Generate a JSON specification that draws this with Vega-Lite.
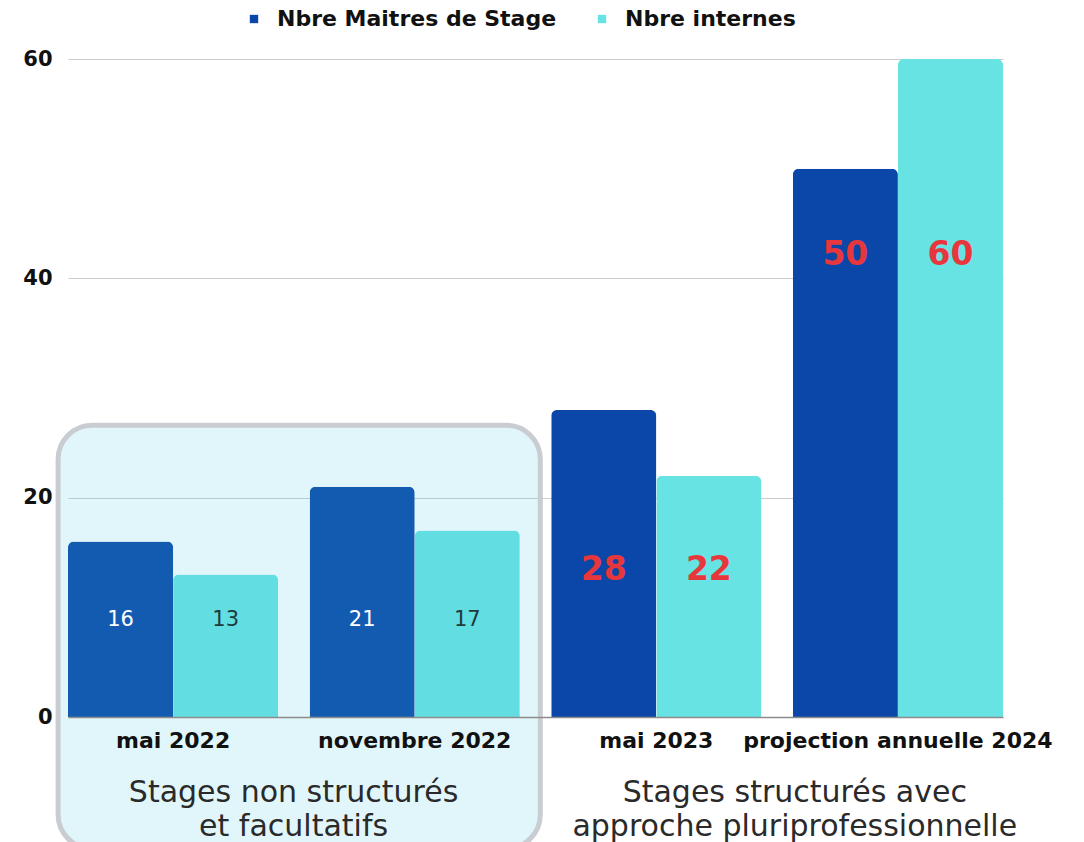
{
  "$schema": "https://vega.github.io/schema/vega-lite/v6.json",
  "width": 935,
  "height": 658,
  "autosize": {"type": "none"},
  "padding": {"left": 68, "top": 59, "right": 81, "bottom": 125},
  "background": "white",
  "config": {"view": {"stroke": null}, "text": {"lineBreak": "\n"}},
  "datasets": {
    "bars": [
      {"period": "mai 2022", "series": "Nbre Maitres de Stage", "value": 16},
      {"period": "mai 2022", "series": "Nbre internes", "value": 13},
      {"period": "novembre 2022", "series": "Nbre Maitres de Stage", "value": 21},
      {"period": "novembre 2022", "series": "Nbre internes", "value": 17},
      {"period": "mai 2023", "series": "Nbre Maitres de Stage", "value": 28},
      {"period": "mai 2023", "series": "Nbre internes", "value": 22},
      {"period": "projection annuelle 2024", "series": "Nbre Maitres de Stage", "value": 50},
      {"period": "projection annuelle 2024", "series": "Nbre internes", "value": 60}
    ],
    "groups": [
      {"group": "Stages non structurés\net facultatifs", "to": "novembre 2022"},
      {"group": "Stages structurés avec\napproche pluriprofessionnelle", "to": "projection annuelle 2024"}
    ]
  },
  "layer": [
    {
      "data": {"name": "bars"},
      "mark": {"type": "bar", "cornerRadiusEnd": 6},
      "encoding": {
        "x": {
          "field": "period", "type": "nominal",
          "scale": {"domain": ["mai 2022", "novembre 2022", "mai 2023", "projection annuelle 2024"], "paddingInner": 0.13, "paddingOuter": 0},
          "axis": {"title": null, "labelAngle": 0, "ticks": false, "labelPadding": 13, "labelLimit": 0, "labelFont": "DejaVu Sans", "labelFontWeight": "bold", "labelFontSize": 22, "labelColor": "#111111", "domainColor": "#8c8c8c", "domainWidth": 1.5, "zindex": 1}
        },
        "xOffset": {"field": "series", "type": "nominal", "scale": {"domain": ["Nbre Maitres de Stage", "Nbre internes"], "paddingInner": 0, "paddingOuter": 0}},
        "y": {
          "field": "value", "type": "quantitative",
          "scale": {"domain": [0, 60], "nice": false},
          "axis": {"title": null, "values": [0, 20, 40, 60], "domain": false, "ticks": false, "labelPadding": 16, "labelFont": "DejaVu Sans", "labelFontWeight": "bold", "labelFontSize": 21, "labelColor": "#111111", "gridColor": "#cccccc", "gridWidth": 1}
        },
        "color": {
          "field": "series", "type": "nominal",
          "scale": {"domain": ["Nbre Maitres de Stage", "Nbre internes"], "range": ["#0A47A8", "#68E3E3"]},
          "legend": {"orient": "none", "legendX": 175, "legendY": -51, "direction": "horizontal", "title": null, "symbolType": "square", "symbolSize": 70, "symbolStrokeWidth": 0, "labelLimit": 0, "labelFont": "DejaVu Sans", "labelFontWeight": "bold", "labelFontSize": 22, "labelColor": "#111111", "columnPadding": 34, "labelOffset": 12}
        }
      }
    },
    {
      "data": {"values": [{}]},
      "mark": {"type": "rect", "fill": "#47C8E0", "fillOpacity": 0.16, "stroke": "#C9CDD1", "strokeWidth": 5, "cornerRadius": 34, "xOffset": -115, "x2Offset": -116},
      "encoding": {
        "x": {"datum": "mai 2022"},
        "x2": {"datum": "mai 2023"},
        "y": {"datum": 26.6},
        "y2": {"datum": -12}
      }
    },
    {
      "data": {"name": "bars"},
      "transform": [{"filter": {"field": "period", "oneOf": ["mai 2022", "novembre 2022"]}}],
      "mark": {"type": "text", "font": "DejaVu Sans", "fontSize": 21, "baseline": "middle", "align": "center"},
      "encoding": {
        "x": {"field": "period", "type": "nominal"},
        "xOffset": {"field": "series", "type": "nominal"},
        "y": {"datum": 8.85},
        "text": {"field": "value", "type": "quantitative"},
        "color": {"condition": {"test": "datum.series === 'Nbre Maitres de Stage'", "value": "#ffffff"}, "value": "#1d3b3b"}
      }
    },
    {
      "data": {"name": "bars"},
      "transform": [{"filter": {"field": "period", "equal": "mai 2023"}}],
      "mark": {"type": "text", "font": "DejaVu Sans", "fontWeight": "bold", "fontSize": 33, "baseline": "middle", "align": "center", "color": "#E8373C"},
      "encoding": {
        "x": {"field": "period", "type": "nominal"},
        "xOffset": {"field": "series", "type": "nominal"},
        "y": {"datum": 13.4},
        "text": {"field": "value", "type": "quantitative"}
      }
    },
    {
      "data": {"name": "bars"},
      "transform": [{"filter": {"field": "period", "equal": "projection annuelle 2024"}}],
      "mark": {"type": "text", "font": "DejaVu Sans", "fontWeight": "bold", "fontSize": 33, "baseline": "middle", "align": "center", "color": "#E8373C"},
      "encoding": {
        "x": {"field": "period", "type": "nominal"},
        "xOffset": {"field": "series", "type": "nominal"},
        "y": {"datum": 42.1},
        "text": {"field": "value", "type": "quantitative"}
      }
    },
    {
      "data": {"name": "groups"},
      "transform": [{"filter": {"field": "to", "equal": "novembre 2022"}}],
      "mark": {"type": "text", "font": "DejaVu Sans", "fontSize": 30, "lineHeight": 34, "baseline": "middle", "align": "center", "color": "#2a2a2a", "dx": -16},
      "encoding": {
        "x": {"field": "to", "type": "nominal", "bandPosition": 0},
        "y": {"datum": -6.9},
        "text": {"field": "group", "type": "nominal"}
      }
    },
    {
      "data": {"name": "groups"},
      "transform": [{"filter": {"field": "to", "equal": "projection annuelle 2024"}}],
      "mark": {"type": "text", "font": "DejaVu Sans", "fontSize": 30, "lineHeight": 34, "baseline": "middle", "align": "center", "color": "#2a2a2a", "dx": 2},
      "encoding": {
        "x": {"field": "to", "type": "nominal", "bandPosition": 0},
        "y": {"datum": -6.9},
        "text": {"field": "group", "type": "nominal"}
      }
    }
  ]
}
